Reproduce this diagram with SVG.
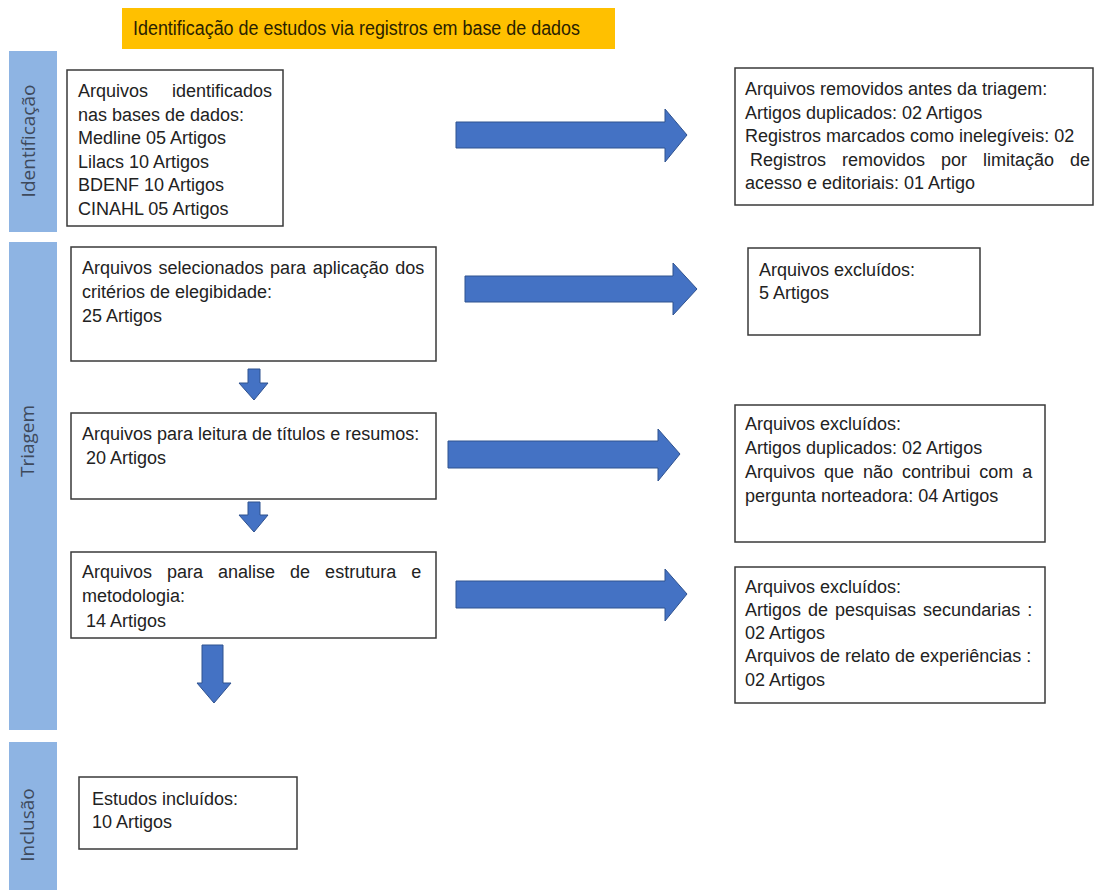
<svg xmlns="http://www.w3.org/2000/svg" width="1095" height="890" viewBox="0 0 1095 890">
  <style>
    .box { fill: #ffffff; stroke: #3a3a3a; stroke-width: 1.5; }
    .t { font-family: "Liberation Sans", Arial, sans-serif; font-size: 18px; fill: #222222; }
    .side { fill: #8EB4E3; }
    .st { font-family: "Open Sans", "Liberation Sans", sans-serif; font-size: 19px; fill: #3E4A5C; text-anchor: middle; }
    .arr { fill: #4472C4; stroke: #2F528F; stroke-width: 1; }
  </style>
  <rect width="1095" height="890" fill="#ffffff"/>

  <g id="title">
    <rect x="122" y="8" width="493" height="41" fill="#FFC000"/>
    <text x="133" y="35" font-family="Liberation Sans, Arial, sans-serif" font-size="20" fill="#2a2200" textLength="447" lengthAdjust="spacingAndGlyphs">Identificação de estudos via registros em base de dados</text>
  </g>

  <g id="phase-identificacao">
    <rect class="side" x="9" y="51" width="48" height="181"/>
    <text class="st" x="35" y="141" transform="rotate(-90 35 141)">Identificação</text>
  </g>
  <g id="phase-triagem">
    <rect class="side" x="9" y="242" width="48" height="488"/>
    <text class="st" x="34" y="441" transform="rotate(-90 34 441)">Triagem</text>
  </g>
  <g id="phase-inclusao">
    <rect class="side" x="9" y="742" width="48" height="148"/>
    <text class="st" x="34" y="825" transform="rotate(-90 34 825)">Inclusão</text>
  </g>

  <g id="node-identificados">
    <rect class="box" x="67" y="70" width="216" height="156"/>
    <text class="t" x="78" y="97">Arquivos</text>
    <text class="t" x="272" y="97" text-anchor="end">identificados</text>
    <text class="t" x="78" y="121">nas bases de dados:</text>
    <text class="t" x="78" y="144">Medline 05 Artigos</text>
    <text class="t" x="78" y="168">Lilacs 10 Artigos</text>
    <text class="t" x="78" y="191">BDENF 10 Artigos</text>
    <text class="t" x="78" y="215">CINAHL 05 Artigos</text>
  </g>

  <g id="node-removidos">
    <rect class="box" x="735" y="68" width="358" height="137"/>
    <text class="t" x="745" y="95">Arquivos removidos antes da triagem:</text>
    <text class="t" x="745" y="119">Artigos duplicados: 02 Artigos</text>
    <text class="t" x="745" y="142">Registros marcados como inelegíveis: 02</text>
    <text class="t" x="750" y="166" word-spacing="11">Registros removidos por limitação de</text>
    <text class="t" x="745" y="189">acesso e editoriais: 01 Artigo</text>
  </g>

  <g id="node-selecionados">
    <rect class="box" x="71" y="247" width="365" height="114"/>
    <text class="t" x="82" y="274" word-spacing="1.5">Arquivos selecionados para aplicação dos</text>
    <text class="t" x="82" y="298">critérios de elegibidade:</text>
    <text class="t" x="82" y="322">25 Artigos</text>
  </g>

  <g id="node-excluidos-1">
    <rect class="box" x="748" y="248" width="232" height="87"/>
    <text class="t" x="759" y="276">Arquivos excluídos:</text>
    <text class="t" x="759" y="299">5 Artigos</text>
  </g>

  <g id="node-leitura">
    <rect class="box" x="71" y="413" width="365" height="86"/>
    <text class="t" x="82" y="440">Arquivos para leitura de títulos e resumos:</text>
    <text class="t" x="86" y="464">20 Artigos</text>
  </g>

  <g id="node-excluidos-2">
    <rect class="box" x="735" y="405" width="310" height="137"/>
    <text class="t" x="745" y="430">Arquivos excluídos:</text>
    <text class="t" x="745" y="454">Artigos duplicados: 02 Artigos</text>
    <text class="t" x="745" y="478" word-spacing="4">Arquivos que não contribui com a</text>
    <text class="t" x="745" y="502">pergunta norteadora: 04 Artigos</text>
  </g>

  <g id="node-estrutura">
    <rect class="box" x="71" y="552" width="365" height="86"/>
    <text class="t" x="82" y="578" word-spacing="10">Arquivos para analise de estrutura e</text>
    <text class="t" x="82" y="602">metodologia:</text>
    <text class="t" x="86" y="627">14 Artigos</text>
  </g>

  <g id="node-excluidos-3">
    <rect class="box" x="735" y="567" width="310" height="136"/>
    <text class="t" x="745" y="593">Arquivos excluídos:</text>
    <text class="t" x="745" y="616" word-spacing="2">Artigos de pesquisas secundarias :</text>
    <text class="t" x="745" y="639">02 Artigos</text>
    <text class="t" x="745" y="662">Arquivos de relato de experiências :</text>
    <text class="t" x="745" y="686">02 Artigos</text>
  </g>

  <g id="node-incluidos">
    <rect class="box" x="79" y="777" width="218" height="72"/>
    <text class="t" x="92" y="805">Estudos incluídos:</text>
    <text class="t" x="92" y="828">10 Artigos</text>
  </g>

  <g id="connectors">
    <path class="arr" d="M456,122 H665 V109 L687,135 L665,162 V148 H456 Z"/>
    <path class="arr" d="M465,276 H673 V263 L697,289 L673,315 V302 H465 Z"/>
    <path class="arr" d="M448,441 H658 V429 L680,454 L658,481 V468 H448 Z"/>
    <path class="arr" d="M456,581 H665 V569 L687,594 L665,621 V608 H456 Z"/>
    <path class="arr" d="M248,369 H260 V383 H268 L254,400 L239,383 H248 Z"/>
    <path class="arr" d="M248,502 H260 V515 H268 L254,532 L239,515 H248 Z"/>
    <path class="arr" d="M202,645 H223 V683 H231 L214,703 L197,683 H202 Z"/>
  </g>
</svg>
